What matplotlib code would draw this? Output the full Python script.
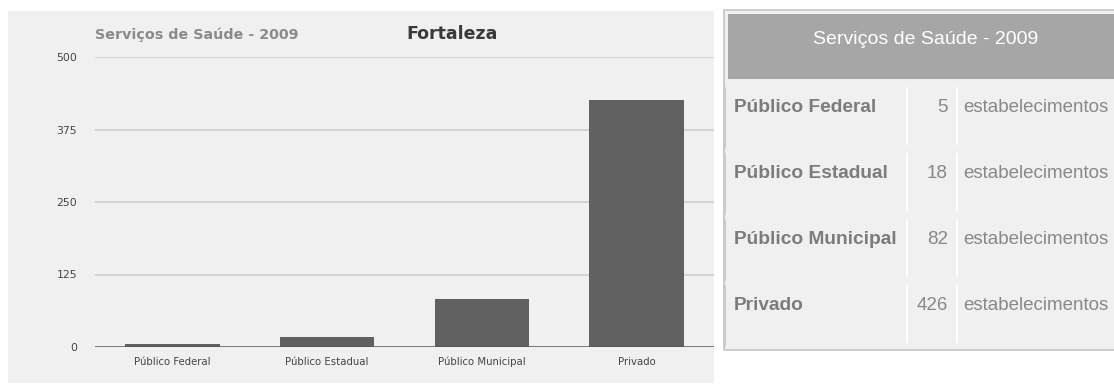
import matplotlib
matplotlib.use("Agg")
import matplotlib.pyplot as plt
from matplotlib.patches import Rectangle

categories = ["Público Federal", "Público Estadual", "Público Municipal", "Privado"]
values = [5, 18, 82, 426]
yticks = [0, 125, 250, 375, 500]
chart_title = "Serviços de Saúde - 2009"
city = "Fortaleza"
unit = "estabelecimentos"

W, H = 1114, 385
fig = plt.figure(figsize=(W / 100, H / 100), dpi=100)
fig.patch.set_facecolor("white")

# overlay axes in pixel coordinates for panels / table
ov = fig.add_axes([0, 0, 1, 1], zorder=0)
ov.set_xlim(0, W)
ov.set_ylim(H, 0)
ov.axis("off")

# left panel background
ov.add_patch(Rectangle((8, 11), 706, 372, facecolor="#f0f0f0", edgecolor="none"))

# chart axes
ax = fig.add_axes([95 / W, (H - 347) / H, (714 - 95) / W, (347 - 57) / H], zorder=2)
ax.set_facecolor("none")
x = range(len(categories))
ax.bar(x, values, width=0.61, color="#606060", zorder=3)
ax.set_xlim(-0.5, len(categories) - 0.5)
ax.set_ylim(0, 500)
ax.set_yticks(yticks)
ax.set_yticklabels([str(t) for t in yticks])
for t in yticks[1:]:
    ax.axhline(t, color="#d2d2d2", lw=1.3, zorder=1)
ax.axhline(0, color="#555555", lw=1.8, zorder=4)
ax.set_xticks(list(x))
ax.set_xticklabels(categories)
for s in ax.spines.values():
    s.set_visible(False)
ax.tick_params(axis="both", length=0, labelcolor="#444444",
               labelfontfamily="DejaVu Sans")
ax.tick_params(axis="y", pad=13, labelsize=7.8)
ax.tick_params(axis="x", pad=7, labelsize=7.3)
ax.grid(False)

ov.text(95, 35, chart_title, ha="left", va="center", fontsize=10.3,
        fontweight="bold", color="#8a8a8a", family="DejaVu Sans")
ov.text(452, 34, city, ha="center", va="center", fontsize=12.5,
        fontweight="bold", color="#3a3a3a", family="DejaVu Sans")

# table panel
ov.add_patch(Rectangle((724, 10), 400, 340, facecolor="#f0f0f0",
                       edgecolor="#c4c4c4", lw=1.2))
ov.add_patch(Rectangle((728, 14), 400, 65, facecolor="#a6a6a6", edgecolor="none"))
ov.text(926, 39, chart_title, ha="center", va="center", fontsize=14,
        color="white", family="Liberation Sans")

row_top = 82
row_h = 66
for i, (cat, val) in enumerate(zip(categories, values)):
    top = row_top + i * row_h
    yc = top + 25
    ov.plot([725, 725], [top + 6, top + 66], color="#c8c8c8", lw=1.2)
    ov.plot([907, 907], [top + 6, top + 62], color="white", lw=1.5)
    ov.plot([957, 957], [top + 6, top + 62], color="white", lw=1.5)
    ov.text(734, yc, cat, ha="left", va="center", fontsize=13.8, fontweight="bold",
            color="#7c7c7c", family="Liberation Sans")
    ov.text(948, yc, str(val), ha="right", va="center", fontsize=13.5,
            color="#888888", family="Liberation Sans")
    ov.text(963, yc, unit, ha="left", va="center", fontsize=13.5,
            color="#888888", family="Liberation Sans")

fig.savefig("out.png", dpi=100)
